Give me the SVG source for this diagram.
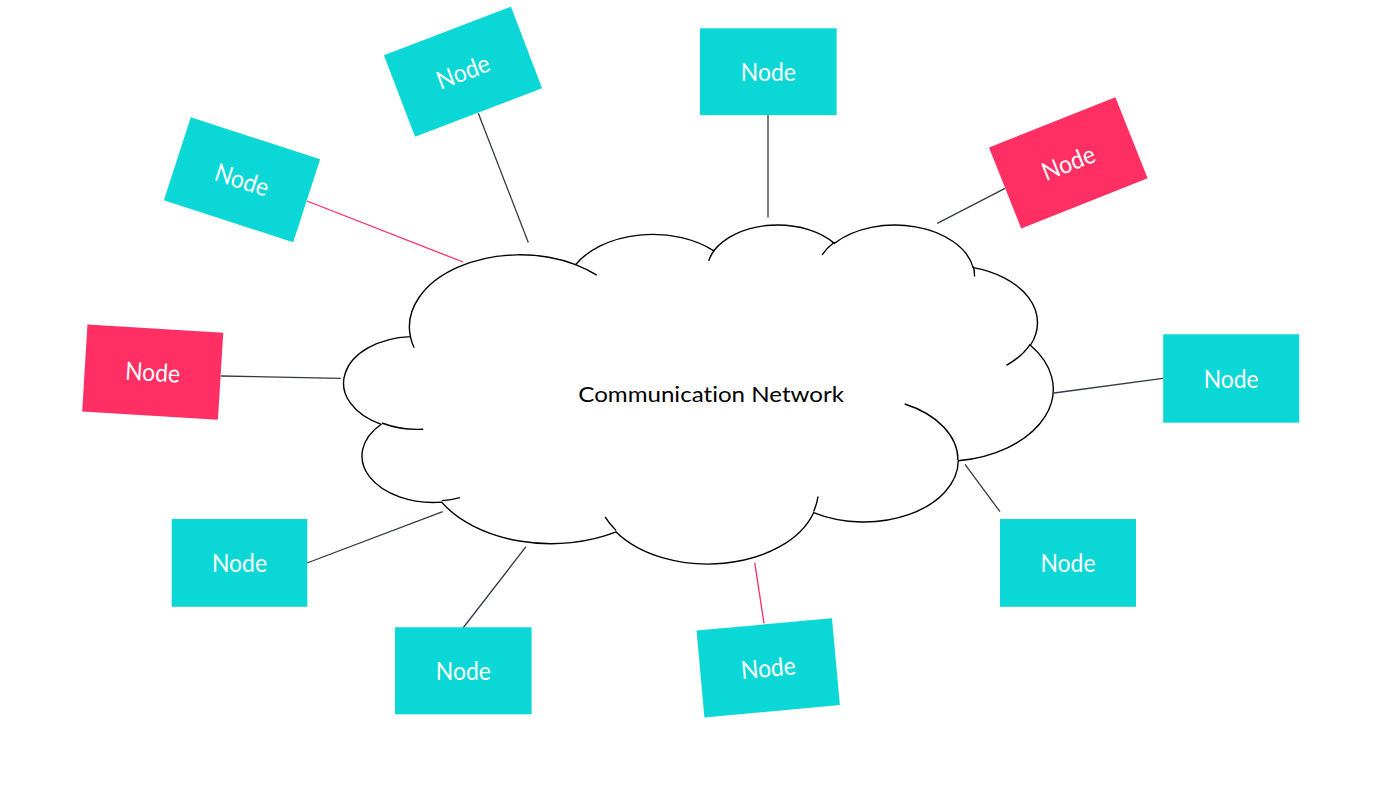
<svg xmlns="http://www.w3.org/2000/svg" width="1400" height="787" viewBox="0 0 1400 787">
<style>
.teal{fill:#0BD8D6}
.red{fill:#FF2E63}
.lbl{fill:#ffffff;font-family:Lato,"Open Sans","Liberation Sans",sans-serif;font-size:25px;text-anchor:middle;font-variant-ligatures:none}
.dk{stroke:#333A44;stroke-width:1.3;fill:none}
.pk{stroke:#FF2E63;stroke-width:1.3;fill:none}
.cl{stroke:#000;stroke-width:1.4}
</style>
<rect width="1400" height="787" fill="#ffffff"/>
<g id="connectors">
<line class="pk" x1="307" y1="201" x2="463" y2="262"/>
<line class="dk" x1="478.3" y1="113.3" x2="528.3" y2="242.5"/>
<line class="dk" x1="768" y1="115" x2="768" y2="217.5"/>
<line class="dk" x1="937.3" y1="223.3" x2="1005" y2="188.3"/>
<line class="dk" x1="220.7" y1="376" x2="340.7" y2="378.3"/>
<line class="dk" x1="1054" y1="393" x2="1163" y2="378.3"/>
<line class="dk" x1="965" y1="464.3" x2="1000" y2="511.7"/>
<line class="dk" x1="307" y1="563" x2="442.7" y2="511.7"/>
<line class="dk" x1="463" y1="628" x2="526" y2="546.7"/>
<line class="pk" x1="754.7" y1="562.7" x2="764" y2="623.3"/>
</g>
<g id="cloud">
<path class="cl" fill="#ffffff" d="M 410.4 336.6 A 110.42 72.09 0 0 1 575.6 264.7 A 87.21 57.00 0 0 1 713.8 250.8 A 71.38 46.63 0 0 1 834.4 243.4 A 79.42 51.73 0 0 1 973.2 267.6 A 87.21 57.05 0 0 1 1030.4 345.2 A 110.78 72.32 0 0 1 958.3 460.8 A 94.60 61.71 0 0 1 813.6 512.7 A 110.41 72.28 0 0 1 616.1 531.9 A 126.24 82.70 0 0 1 441.6 502.1 A 71.29 46.42 0 0 1 381.2 424.3 A 71.05 46.63 0 0 1 410.4 336.6 Z"/>
<path class="cl" fill="none" d="M 423.3 429.2 A 71.05 46.63 0 0 1 381.9 423.0 M 459.9 497.6 A 71.29 46.42 0 0 1 441.8 500.6 M 616.1 530.5 A 110.41 72.28 0 0 1 605.1 516.9 M 818.0 496.5 A 110.41 72.28 0 0 1 813.6 511.5 M 904.7 404.0 A 94.60 61.71 0 0 1 957.9 459.9 M 1030.1 344.3 A 87.21 57.05 0 0 1 1006.4 365.3 M 973.3 266.5 A 79.42 51.73 0 0 1 974.5 276.4 M 822.1 254.9 A 79.42 51.73 0 0 1 834.2 242.3 M 708.7 260.9 A 71.38 46.63 0 0 1 714.5 250.0 M 575.5 264.6 A 110.42 72.09 0 0 1 596.8 275.2 M 414.1 347.8 A 110.42 72.09 0 0 1 410.4 336.6"/>
<text x="578.3" y="401.5" font-family="Lato,'Open Sans','Liberation Sans',sans-serif" font-size="22" fill="#000000" style="font-variant-ligatures:none" textLength="265.7" lengthAdjust="spacingAndGlyphs">Communication Network</text>
</g>
<g id="node-tl" transform="translate(242 179.8) rotate(18)">
<rect class="teal" x="-68" y="-43.6" width="136" height="87.2"/>
<text class="lbl" x="0" y="9" textLength="55" lengthAdjust="spacingAndGlyphs">Node</text>
</g>
<g id="node-top1" transform="translate(463 71.7) rotate(-20.9)">
<rect class="teal" x="-68" y="-43.6" width="136" height="87.2"/>
<text class="lbl" x="0" y="9" textLength="55" lengthAdjust="spacingAndGlyphs">Node</text>
</g>
<g id="node-top2" transform="translate(768.3 71.7)">
<rect class="teal" x="-68.3" y="-43.4" width="136.6" height="86.8"/>
<text class="lbl" x="0" y="9" textLength="55" lengthAdjust="spacingAndGlyphs">Node</text>
</g>
<g id="node-tr" transform="translate(1068.3 162.8) rotate(-21.7)">
<rect class="red" x="-68" y="-43.6" width="136" height="87.2"/>
<text class="lbl" x="0" y="9" textLength="55" lengthAdjust="spacingAndGlyphs">Node</text>
</g>
<g id="node-left" transform="translate(152.7 372.2) rotate(3.5)">
<rect class="red" x="-68" y="-43.6" width="136" height="87.2"/>
<text class="lbl" x="0" y="9" textLength="55" lengthAdjust="spacingAndGlyphs">Node</text>
</g>
<g id="node-right" transform="translate(1231.2 378.5)">
<rect class="teal" x="-68" y="-44.2" width="136" height="88.4"/>
<text class="lbl" x="0" y="9" textLength="55" lengthAdjust="spacingAndGlyphs">Node</text>
</g>
<g id="node-br" transform="translate(1068 562.9)">
<rect class="teal" x="-68" y="-43.9" width="136" height="87.8"/>
<text class="lbl" x="0" y="9" textLength="55" lengthAdjust="spacingAndGlyphs">Node</text>
</g>
<g id="node-bl" transform="translate(239.5 562.9)">
<rect class="teal" x="-67.8" y="-43.9" width="135.6" height="87.8"/>
<text class="lbl" x="0" y="9" textLength="55" lengthAdjust="spacingAndGlyphs">Node</text>
</g>
<g id="node-bottom" transform="translate(463.3 670.8)">
<rect class="teal" x="-68.3" y="-43.5" width="136.6" height="87"/>
<text class="lbl" x="0" y="9" textLength="55" lengthAdjust="spacingAndGlyphs">Node</text>
</g>
<g id="node-bc" transform="translate(768.2 667.8) rotate(-5.2)">
<rect class="teal" x="-68" y="-43.6" width="136" height="87.2"/>
<text class="lbl" x="0" y="9" textLength="55" lengthAdjust="spacingAndGlyphs">Node</text>
</g>
</svg>
